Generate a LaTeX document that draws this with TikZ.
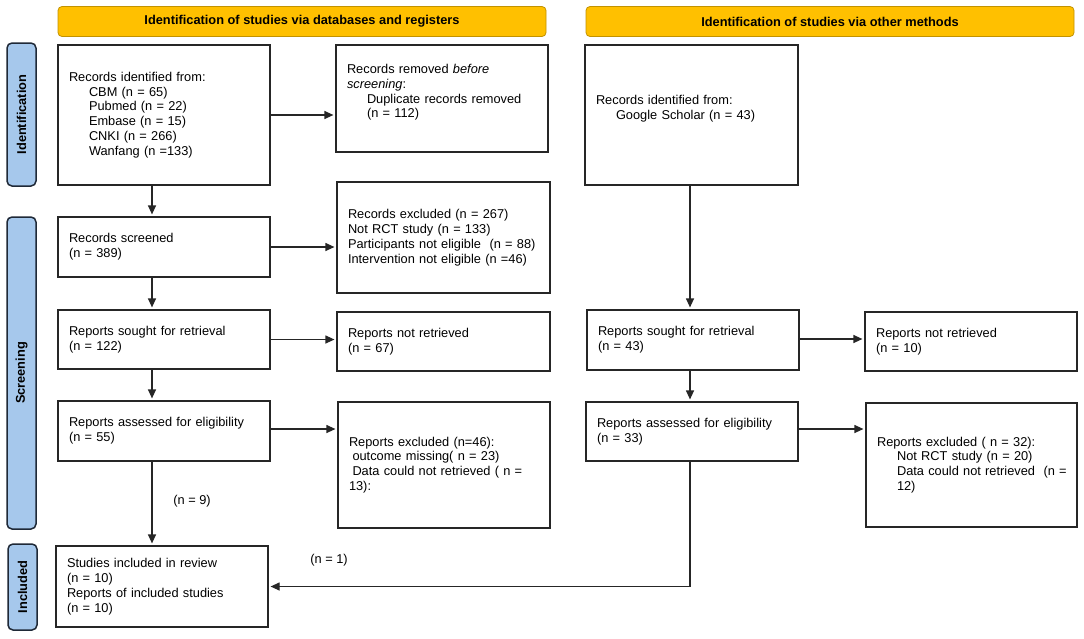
\documentclass[tikz,border=0pt]{standalone}
\usepackage{fontspec}
\setmainfont{Liberation Sans}
\usetikzlibrary{arrows.meta,calc}
\definecolor{banfill}{HTML}{FFC000}
\definecolor{bandraw}{HTML}{C29200}
\definecolor{labfill}{HTML}{A6C8EC}
\definecolor{labdraw}{HTML}{1F2937}
\definecolor{boxdraw}{HTML}{262626}
\tikzset{
  txt/.style={font=\fontsize{12.8pt}{14.8pt}\selectfont},
  box/.style={txt, draw=boxdraw, line width=1.2pt, fill=white, rectangle, align=left,
    inner xsep=11pt, inner ysep=0pt},
  banner/.style={txt, font=\fontsize{12.8pt}{14.8pt}\selectfont\bfseries, draw=bandraw, line width=0.8pt,
    fill=banfill, rounded corners=4pt, minimum width=488pt, minimum height=30pt, inner sep=0pt},
  phase/.style={txt, font=\fontsize{12.8pt}{14.8pt}\selectfont\bfseries, draw=labdraw, line width=1.5pt,
    fill=labfill, rounded corners=5pt, rotate=90, minimum height=29pt, inner sep=0pt},
  arr/.style={draw=boxdraw, line width=1.2pt, -{Triangle[length=9pt,width=8pt]}, shorten >=2pt},
}
\newcommand{\ind}{\hspace*{20pt}}
\begin{document}
\begin{tikzpicture}[x=1pt,y=-1pt]
\useasboundingbox (0,0) rectangle (1084,638);
\fill[white] (0,0) rectangle (1084,638);

% banners
\node[banner] (banL) at (302,21.5) {Identification of studies via databases and registers};
\node[banner] (banR) at (830,21.5) {Identification of studies via other methods};

% phase labels
\node[phase, minimum width=143pt] (phId) at (21.5,114.5) {Identification};
\node[phase, minimum width=312pt] (phSc) at (21.5,373) {Screening};
\node[phase, minimum width=86pt] (phIn) at (22.5,587) {Included};

% left column
\node[box, text width=190pt, minimum height=140pt] (b1) at (164,115) {Records identified from:\\
\ind CBM (n = 65)\\
\ind Pubmed (n = 22)\\
\ind Embase (n = 15)\\
\ind CNKI (n = 266)\\
\ind Wanfang (n =133)};

\node[box, text width=190pt, minimum height=107pt] (rem) at (442,98.5) {Records removed \textit{before}\\
\textit{screening}:\\
\ind Duplicate records removed\\
\ind (n = 112)\\
\mbox{}};

\node[box, text width=190pt, minimum height=60pt] (scr) at (164,247) {Records screened\\
(n = 389)};

\node[box, text width=191pt, minimum height=111pt] (exc) at (443.5,237.5) {Records excluded (n = 267)\\
Not RCT study (n = 133)\\
Participants not eligible\ \ (n = 88)\\
Intervention not eligible (n =46)};

\node[box, text width=190pt, minimum height=59pt] (so1) at (164,339.5) {Reports sought for retrieval\\
(n = 122)};

\node[box, text width=191pt, minimum height=59pt] (nr1) at (443.5,341.5) {Reports not retrieved\\
(n = 67)};

\node[box, text width=190pt, minimum height=60pt] (as1) at (164,431) {Reports assessed for eligibility\\
(n = 55)};

\node[box, text width=190pt, minimum height=126pt] (ex46) at (444,465) {Reports excluded (n=46):\\
\hspace*{3.5pt}outcome missing( n = 23)\\
\hspace*{3.5pt}Data could not retrieved ( n =\\
13):};

\node[box, text width=190pt, minimum height=81pt] (inc) at (162,586.5) {Studies included in review\\
(n = 10)\\
Reports of included studies\\
(n = 10)};

% right column
\node[box, text width=191pt, minimum height=140pt] (goog) at (691.5,115) {Records identified from:\\
\ind Google Scholar (n = 43)\\
\mbox{}};

\node[box, text width=190pt, minimum height=60pt] (so2) at (693,340) {Reports sought for retrieval\\
(n = 43)};

\node[box, text width=190pt, minimum height=59pt] (nr2) at (971,341.5) {Reports not retrieved\\
(n = 10)};

\node[box, text width=190pt, minimum height=59pt] (as2) at (692,431.5) {Reports assessed for eligibility\\
(n = 33)};

\node[box, text width=189pt, minimum height=124pt] (ex32) at (971.5,465) {Reports excluded ( n = 32):\\
\ind Not RCT study (n = 20)\\
\mbox{\ind Data could not retrieved\ \ (n =}\\
\ind 12)};

% count labels
\node[txt, inner sep=0pt] (n9) at (192,501) {(n = 9)};
\node[txt, inner sep=0pt] (n1) at (329,560) {(n = 1)};

% horizontal arrows
\draw[arr] (b1.east) -- (b1.east -| rem.west);
\draw[arr] (scr.east) -- (scr.east -| exc.west);
\draw[arr] (so1.east) -- (so1.east -| nr1.west);
\draw[arr] ([yshift=2pt]as1.east) -- ([yshift=2pt]as1.east -| ex46.west);
\draw[arr] ([yshift=1pt]so2.east) -- ([yshift=1pt]so2.east -| nr2.west);
\draw[arr] ([yshift=2.5pt]as2.east) -- ([yshift=2.5pt]as2.east -| ex32.west);

% vertical arrows left
\coordinate (lx) at (152,0);
\draw[arr] (b1.south -| lx) -- (scr.north -| lx);
\draw[arr] (scr.south -| lx) -- (so1.north -| lx);
\draw[arr] (so1.south -| lx) -- (as1.north -| lx);
\draw[arr] (as1.south -| lx) -- (inc.north -| lx);

% vertical arrows right
\coordinate (rx) at (690,0);
\draw[arr] (goog.south -| rx) -- (so2.north -| rx);
\draw[arr] (so2.south -| rx) -- (as2.north -| rx);
\draw[arr] (as2.south -| rx) |- (inc.east);
\end{tikzpicture}
\end{document}
